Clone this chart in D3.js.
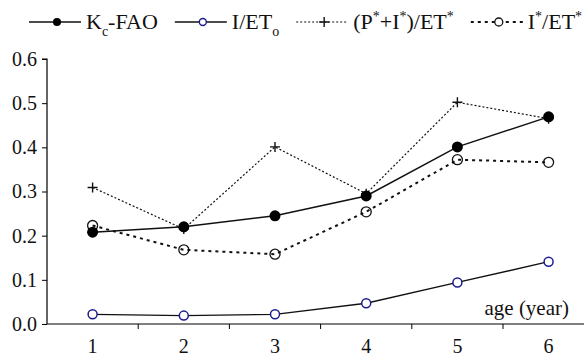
<!DOCTYPE html>
<html>
<head>
<meta charset="utf-8">
<script src="https://cdn.jsdelivr.net/npm/d3@7"></script>
<style>
  html, body { margin: 0; padding: 0; background: #fff; }
  svg { display: block; }
  svg text { font-family: "Liberation Serif", "DejaVu Serif", serif !important; }
</style>
</head>
<body>
<svg id="chart" width="584" height="357"></svg>
<script>
// Stand age (years)
const ages = [1, 2, 3, 4, 5, 6];
// Crop coefficient series
const kcFao = [0.208, 0.220, 0.245, 0.290, 0.401, 0.469];
const iEto  = [0.022, 0.019, 0.022, 0.047, 0.094, 0.141];
const pIEt  = [0.309, 0.215, 0.401, 0.295, 0.502, 0.465];
const iEt   = [0.223, 0.168, 0.158, 0.254, 0.372, 0.366];
const yTicks = [0.0, 0.1, 0.2, 0.3, 0.4, 0.5, 0.6];

const svg = d3.select("#chart");
const plotLeft = 47, plotBottom = 324, plotTop = 59, band = 91.2;

const x = d3.scaleBand().domain(ages).range([plotLeft, plotLeft + band * ages.length]).padding(0);
const y = d3.scaleLinear().domain([0, 0.6]).range([plotBottom, plotTop]);
const cx = d => x(d) + x.bandwidth() / 2;

// Axes
const yAxis = d3.axisLeft(y).tickValues(yTicks).tickFormat(d3.format(".1f")).tickSize(5).tickPadding(5);
const gy = svg.append("g").attr("transform", `translate(${plotLeft},0)`).call(yAxis);
gy.select(".domain").attr("d", `M-5,${plotTop}H0V${plotBottom}`).attr("stroke", "#000").attr("stroke-width", 1.2);
gy.selectAll("line").attr("stroke", "#000");
gy.selectAll("text").attr("font-size", 20).attr("fill", "#111");

const gx = svg.append("g").attr("transform", `translate(0,${plotBottom})`);
gx.append("line").attr("x1", plotLeft).attr("x2", 584).attr("stroke", "#000").attr("stroke-width", 1.2);
// ticks sit on the band boundaries
gx.selectAll("line.tk").data(ages.slice(1)).join("line").attr("class", "tk")
  .attr("x1", d => x(d)).attr("x2", d => x(d)).attr("y1", 0).attr("y2", 5).attr("stroke", "#000");
gx.selectAll("text").data(ages).join("text")
  .attr("x", d => cx(d)).attr("y", 29).attr("text-anchor", "middle")
  .attr("font-size", 20).attr("fill", "#111").text(d => d);

svg.append("text").attr("x", 569).attr("y", 315).attr("text-anchor", "end")
  .attr("font-size", 21).attr("fill", "#111").text("age (year)");

const line = d3.line().x((d, i) => cx(ages[i])).y(d => y(d));

// I/ETo
svg.append("path").datum(iEto).attr("d", line).attr("fill", "none").attr("stroke", "#111").attr("stroke-width", 1.3);
// I*/ET*
svg.append("path").datum(iEt).attr("d", line).attr("fill", "none").attr("stroke", "#111")
  .attr("stroke-width", 2).attr("stroke-dasharray", "3,4");
// (P*+I*)/ET*
svg.append("path").datum(pIEt).attr("d", line).attr("fill", "none").attr("stroke", "#111")
  .attr("stroke-width", 1.2).attr("stroke-dasharray", "2,2");
// Kc-FAO
svg.append("path").datum(kcFao).attr("d", line).attr("fill", "none").attr("stroke", "#111").attr("stroke-width", 1.5);

function plus(g, px, py) {
  g.append("path").attr("d", `M${px - 5},${py}H${px + 5}M${px},${py - 5}V${py + 5}`)
    .attr("stroke", "#111").attr("stroke-width", 1.4).attr("fill", "none");
}

svg.selectAll("circle.ieto").data(iEto).join("circle").attr("class", "ieto")
  .attr("cx", (d, i) => cx(ages[i])).attr("cy", d => y(d)).attr("r", 4.5)
  .attr("fill", "#fff").attr("stroke", "#1c1c8f").attr("stroke-width", 1.5);
svg.selectAll("circle.iet").data(iEt).join("circle").attr("class", "iet")
  .attr("cx", (d, i) => cx(ages[i])).attr("cy", d => y(d)).attr("r", 5)
  .attr("fill", "none").attr("stroke", "#111").attr("stroke-width", 1.3);
pIEt.forEach((d, i) => plus(svg, cx(ages[i]), y(d)));
svg.selectAll("circle.kc").data(kcFao).join("circle").attr("class", "kc")
  .attr("cx", (d, i) => cx(ages[i])).attr("cy", d => y(d)).attr("r", 5.5).attr("fill", "#000");

// Legend
const lg = svg.append("g").attr("fill", "#111");
const ly = 22, lfs = 22, sfs = 14;
let lx = 29;
const items = [
  { dash: null, w: 1.5, marker: "filled", parts: ["K", "c", "-FAO"] },
  { dash: null, w: 1.3, marker: "blue", parts: ["I/ET", "o"] },
  { dash: "2,2", w: 1.2, marker: "plus", parts: ["(P", "*", "+I", "*", ")/ET", "*"] },
  { dash: "3,4", w: 2, marker: "open", parts: ["I", "*", "/ET", "*"] }
];
const offset = { sub: 7, sup: -8, base: 0 };
items.forEach(it => {
  lg.append("line").attr("x1", lx).attr("x2", lx + 52).attr("y1", ly).attr("y2", ly)
    .attr("stroke", "#111").attr("stroke-width", it.w).attr("stroke-dasharray", it.dash);
  const mx = lx + 28;
  if (it.marker === "filled") lg.append("circle").attr("cx", mx).attr("cy", ly).attr("r", 4).attr("fill", "#000");
  if (it.marker === "blue") lg.append("circle").attr("cx", mx).attr("cy", ly).attr("r", 3.5).attr("fill", "#fff").attr("stroke", "#1c1c8f").attr("stroke-width", 1.4);
  if (it.marker === "plus") plus(lg, mx, ly);
  if (it.marker === "open") lg.append("circle").attr("cx", mx).attr("cy", ly).attr("r", 4).attr("fill", "#fff").attr("stroke", "#111").attr("stroke-width", 1.3);
  const t = lg.append("text").attr("x", lx + 57).attr("y", ly + 7).attr("font-size", lfs);
  let level = "base";
  it.parts.forEach(s => {
    const target = (s === "c" || s === "o") ? "sub" : (s === "*" ? "sup" : "base");
    t.append("tspan").attr("dy", offset[target] - offset[level])
      .attr("font-size", target === "base" ? lfs : sfs).text(s);
    level = target;
  });
  lx += 57 + t.node().getComputedTextLength() + 17;
});
</script>
</body>
</html>
